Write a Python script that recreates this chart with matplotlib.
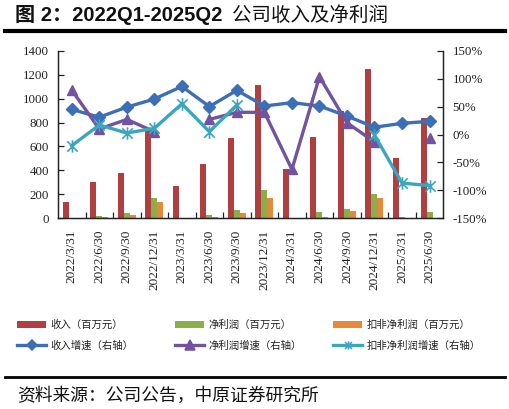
import numpy as np
import matplotlib
matplotlib.use("Agg")
import matplotlib.pyplot as plt
from matplotlib.lines import Line2D
from matplotlib.patches import Patch
from matplotlib.path import Path
from matplotlib.ticker import FuncFormatter, MultipleLocator, FixedLocator

categories = ['2022/3/31', '2022/6/30', '2022/9/30', '2022/12/31', '2023/3/31', '2023/6/30',
              '2023/9/30', '2023/12/31', '2024/3/31', '2024/6/30', '2024/9/30', '2024/12/31',
              '2025/3/31', '2025/6/30']
revenue = [140, 300, 375, 740, 267, 450, 673, 1115, 415, 682, 900, 1247, 500, 840]
net_profit = [0, 19, 47, 167, 0, 28, 67, 234, 0, 56, 78, 203, 14, 53]
deducted_profit = [0, 11, 28, 134, 0, 11, 42, 173, 0, 10, 61, 167, 0, 0]
revenue_growth = [45, 31, 49, 63.5, 86, 50, 79, 51, 57, 51, 33, 13, 20, 23.6]
profit_growth = [79.6, 9.8, 27, 5, np.nan, 27, 39.7, 39.7, -62.5, 103.5, 21, -13.4, np.nan, -6.9]
deducted_growth = [-20, 17, 2.7, 11, 55, 5, 53, np.nan, np.nan, np.nan, np.nan, -1, -87, -91.5]

labels_bar = ['收入（百万元）', '净利润（百万元）', '扣非净利润（百万元）']
labels_line = ['收入增速（右轴）', '净利润增速（右轴）', '扣非净利润增速（右轴）']

RED = '#B0403F'
GREEN = '#8BAD4A'
ORANGE = '#E8883A'
BLUE = '#3D6FB6'
PURPLE = '#72539F'
CYAN = '#3AA6BF'

SERIF = ['Liberation Serif', 'DejaVu Serif']
CJK = ['Noto Sans CJK SC', 'DejaVu Sans']

# Excel-like star marker: an x with a vertical stroke
STAR = Path([(-1, -1), (1, 1), (-1, 1), (1, -1), (0, -1.2), (0, 1.2)],
            [Path.MOVETO, Path.LINETO, Path.MOVETO, Path.LINETO, Path.MOVETO, Path.LINETO])

W, H = 510, 409
fig = plt.figure(figsize=(W / 100, H / 100), dpi=100)
ax = fig.add_axes([58 / W, 1 - 218.3 / H, (443.3 - 58) / W, (218.3 - 50.7) / H])

x = np.arange(len(categories))
bw = 0.218
ax.bar(x - bw, revenue, bw, color=RED, zorder=2)
ax.bar(x, net_profit, bw, color=GREEN, zorder=2)
ax.bar(x + bw, deducted_profit, bw, color=ORANGE, zorder=2)
ax.set_xlim(-0.5, len(categories) - 0.5)
ax.set_ylim(0, 1400)
ax.yaxis.set_major_locator(MultipleLocator(200))

ax2 = ax.twinx()
lw = 2.4
ax2.plot(x, revenue_growth, color=BLUE, lw=lw, marker='D', ms=6.5, zorder=3)
ax2.plot(x, profit_growth, color=PURPLE, lw=lw, marker='^', ms=7.5, zorder=3)
ax2.plot(x, deducted_growth, color=CYAN, lw=lw, marker=STAR, ms=9, mew=1.2, zorder=3)
ax2.set_ylim(-150, 150)
ax2.yaxis.set_major_locator(MultipleLocator(50))
ax2.yaxis.set_major_formatter(FuncFormatter(lambda v, p: f'{v:.0f}%'))

for a in (ax, ax2):
    a.spines['top'].set_visible(False)
    for s in ('left', 'right', 'bottom'):
        a.spines[s].set_color('#222222')
        a.spines[s].set_linewidth(0.9)

ax.set_xticks(x)
ax.set_xticklabels(categories, rotation=90, fontfamily=SERIF, fontsize=9.5, color='#222222')
ax.tick_params(axis='x', which='major', length=0, pad=8)
ax.xaxis.set_minor_locator(FixedLocator(np.arange(0.5, len(categories) - 1, 1.0)))
ax.tick_params(axis='x', which='minor', direction='in', length=4, width=0.9, color='#222222')
ax.tick_params(axis='y', direction='in', length=4, width=0.9, pad=6.5, labelsize=9.3, color='#222222', labelcolor='#222222')
ax2.tick_params(axis='y', direction='in', length=4, width=0.9, pad=6.8, labelsize=9.3, color='#222222', labelcolor='#222222')
for t in ax.get_yticklabels() + ax2.get_yticklabels():
    t.set_fontfamily(SERIF)

# Legend: three columns, two rows each
bar_colors = [RED, GREEN, ORANGE]
line_specs = [(BLUE, 'D', 5), (PURPLE, '^', 6.5), (CYAN, STAR, 6)]
col_x = [17, 175, 333]
for i in range(3):
    hb = Patch(facecolor=bar_colors[i], edgecolor='none')
    c, m, ms = line_specs[i]
    hl = Line2D([], [], color=c, lw=2.4, marker=m, ms=ms, mew=1.1)
    leg = fig.legend([hb, hl], [labels_bar[i], labels_line[i]],
                     loc='upper left', bbox_to_anchor=(col_x[i] / W, 1 - 320 / H),
                     frameon=False, prop={'family': CJK, 'size': 7.5},
                     handlelength=2.8, handletextpad=0.4, labelspacing=1.0,
                     borderpad=0.0, borderaxespad=0.0)
    for t in leg.get_texts():
        t.set_color('#222222')

# Title
fig.canvas.draw()
r = fig.canvas.get_renderer()
ty = 1 - 15 / H
t1 = fig.text(15 / W, ty, '图 2：2022Q1-2025Q2', fontsize=14.5, fontweight='bold',
              family=['Liberation Sans', 'Noto Sans CJK SC'], va='center', ha='left', color='#111111')
bb = t1.get_window_extent(r)
fig.text(bb.x1 / W + 10 / W, ty, '公司收入及净利润', fontsize=14,
         family=CJK, va='center', ha='left', color='#111111')

fig.add_artist(Line2D([5 / W, 505 / W], [1 - 31 / H, 1 - 31 / H], color='black', lw=3, transform=fig.transFigure))
fig.add_artist(Line2D([5 / W, 505 / W], [1 - 377 / H, 1 - 377 / H], color='black', lw=2, transform=fig.transFigure))

fig.text(17 / W, 1 - 396 / H, '资料来源：公司公告，中原证券研究所', fontsize=12.8, family=CJK,
         va='center', ha='left', color='#111111')

fig.savefig('out.png', dpi=100)
